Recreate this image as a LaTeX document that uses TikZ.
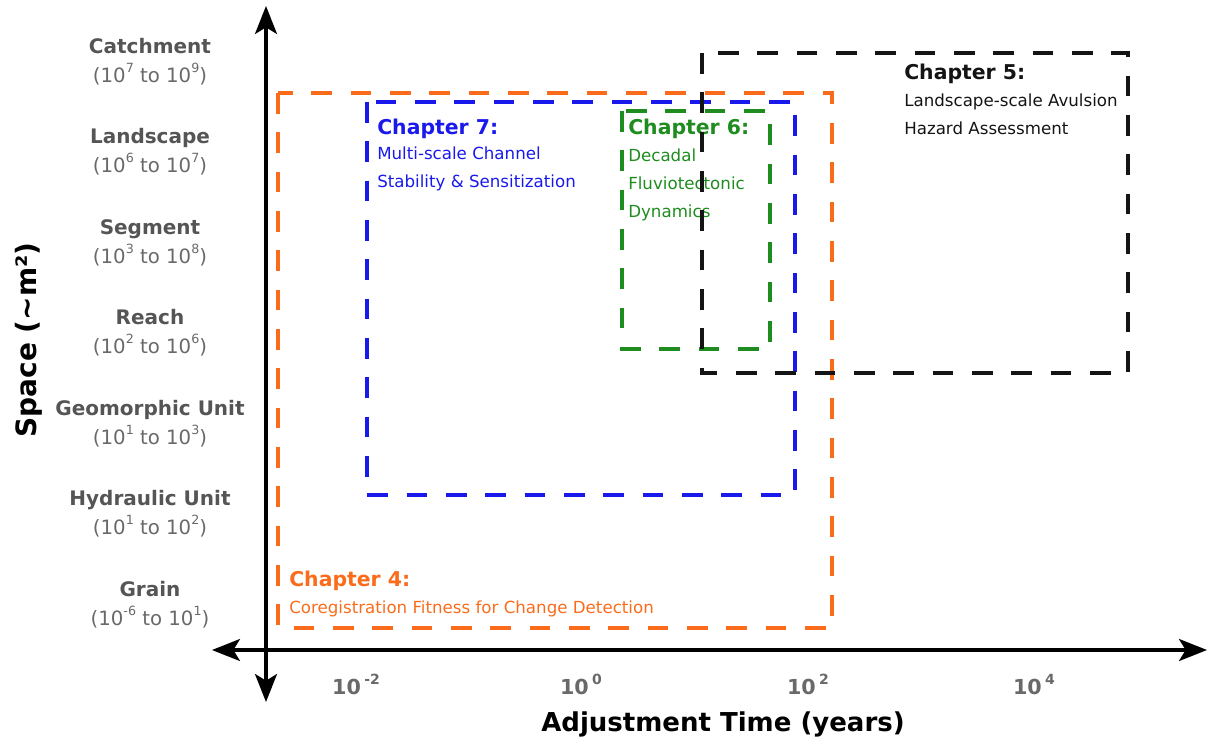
\documentclass[tikz,border=0pt]{standalone}
\usepackage{fontspec}
\setmainfont{DejaVu Sans}
\usetikzlibrary{arrows.meta}

\definecolor{titlegray}{RGB}{85,85,85}
\definecolor{rangegray}{RGB}{105,105,105}
\definecolor{chfour}{RGB}{250,108,28}
\definecolor{chfive}{RGB}{20,20,20}
\definecolor{chsix}{RGB}{30,140,30}
\definecolor{chseven}{RGB}{25,25,235}

% raised exponent, optional size in pt
\newcommand\expo[2][9.5]{\raisebox{0.48em}{\fontsize{#1}{#1}\selectfont #2}}

\begin{document}
\begin{tikzpicture}[x=0.75pt,y=-0.75pt,
  scaletitle/.style={font=\bfseries\fontsize{15}{18}\selectfont, text=titlegray, anchor=base, inner sep=0pt},
  scalerange/.style={font=\fontsize{14.8}{18}\selectfont, text=rangegray, anchor=base, inner sep=0pt},
  ticklab/.style={font=\bfseries\fontsize{15.5}{18}\selectfont, text=rangegray, anchor=base, inner sep=0pt},
  axistitle/.style={font=\bfseries\fontsize{19.5}{22}\selectfont, text=black, inner sep=0pt},
  axishead/.style={Stealth[length=21pt, width=16.5pt, inset=5pt]},
  axisline/.style={line width=2.4pt, {Stealth[length=21pt, width=16.5pt, inset=5pt]}-{Stealth[length=21pt, width=16.5pt, inset=5pt]}},
  chbox/.style={line width=2.5pt, dash pattern=on 15.5pt off 14pt},
  chhead/.style={font=\bfseries\fontsize{15.3}{18}\selectfont, anchor=base west, inner sep=0pt},
  chbody/.style={font=\fontsize{12.5}{15}\selectfont, anchor=base west, inner sep=0pt}]
\useasboundingbox (0,0) rectangle (1215,740);

% axes
\coordinate (ytop) at (266,6);
\coordinate (ybot) at (266,702);
\coordinate (xleft) at (212,650);
\coordinate (xright) at (1207,650);
\draw[axisline] (ybot) -- (ytop);
\draw[axisline] (xleft) -- (xright);

% spatial scales
\node[scaletitle] (t1) at (150,53)  {Catchment};
\node[scalerange] (r1) at (150,82)  {(10\expo{7} to 10\expo{9})};
\node[scaletitle] (t2) at (150,143) {Landscape};
\node[scalerange] (r2) at (150,172) {(10\expo{6} to 10\expo{7})};
\node[scaletitle] (t3) at (150,234) {Segment};
\node[scalerange] (r3) at (150,263) {(10\expo{3} to 10\expo{8})};
\node[scaletitle] (t4) at (150,324) {Reach};
\node[scalerange] (r4) at (150,353) {(10\expo{2} to 10\expo{6})};
\node[scaletitle] (t5) at (150,415) {Geomorphic Unit};
\node[scalerange] (r5) at (150,444) {(10\expo{1} to 10\expo{3})};
\node[scaletitle] (t6) at (150,505) {Hydraulic Unit};
\node[scalerange] (r6) at (150,534) {(10\expo{1} to 10\expo{2})};
\node[scaletitle] (t7) at (150,596) {Grain};
\node[scalerange] (r7) at (150,625) {(10\expo{-6} to 10\expo{1})};

% time ticks
\node[ticklab] (k1) at (356,694)  {10\,\expo[10.5]{-2}};
\node[ticklab] (k2) at (581,694)  {10\,\expo[10.5]{0}};
\node[ticklab] (k3) at (808,694)  {10\,\expo[10.5]{2}};
\node[ticklab] (k4) at (1034,694) {10\,\expo[10.5]{4}};

% axis titles
\node[axistitle, anchor=base] (xt) at (723,731) {Adjustment Time (years)};
\node[axistitle, font=\bfseries\fontsize{21}{24}\selectfont, rotate=90] (yt) at (29,340) {Space (\textasciitilde m²)};

% chapter extents
\draw[chbox, chfour]  (278,93)  rectangle (832,628);
\draw[chbox, chseven] (367,102) rectangle (795,495);
\draw[chbox, chsix]   (622,111) rectangle (770,349);

% chapter labels
\node[chhead, text=chseven] (c7) at (377,134) {Chapter 7:};
\node[chbody, text=chseven] (c7a) at (377,159) {Multi-scale Channel};
\node[chbody, text=chseven] (c7b) at (377,187) {Stability \& Sensitization};

\node[chhead, text=chsix] (c6) at (628,134) {Chapter 6:};
\node[chbody, text=chsix] (c6a) at (628,161) {Decadal};
\node[chbody, text=chsix] (c6b) at (628,189) {Fluviotectonic};
\node[chbody, text=chsix] (c6c) at (628,217) {Dynamics};

\node[chhead, text=chfive] (c5) at (904,79) {Chapter 5:};
\node[chbody, text=chfive] (c5a) at (904,106) {Landscape-scale Avulsion};
\node[chbody, text=chfive] (c5b) at (904,134) {Hazard Assessment};

\node[chhead, text=chfour] (c4) at (289,586) {Chapter 4:};
\node[chbody, text=chfour] (c4a) at (289,613) {Coregistration Fitness for Change Detection};

\draw[chbox, chfive]  (702,53)  rectangle (1128,373);
\end{tikzpicture}
\end{document}
